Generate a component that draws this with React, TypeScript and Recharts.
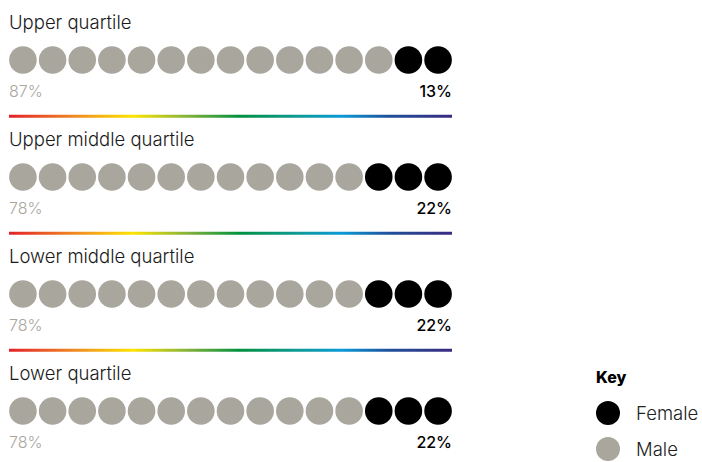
import { ReferenceLine, Scatter, ScatterChart, XAxis, YAxis } from "recharts";

const quartiles = [
  "Upper quartile",
  "Upper middle quartile",
  "Lower middle quartile",
  "Lower quartile",
];
const malePct = [87, 78, 78, 78];
const femalePct = [13, 22, 22, 22];
const femaleDots = [2, 3, 3, 3];
const dotsPerRow = 15;
const keyItems = [
  { label: "Female", color: "#000000" },
  { label: "Male", color: "#a9a69e" },
];

const GREY = "#a9a69e";
const FONT = "Inter, 'Noto Sans', sans-serif";

const dots = quartiles.flatMap((_, r) =>
  Array.from({ length: dotsPerRow }, (_, i) => ({
    x: i,
    y: r,
    female: i >= dotsPerRow - femaleDots[r],
  }))
);
const maleData = dots.filter((d) => !d.female);
const femaleData = dots.filter((d) => d.female);

const titleData = quartiles.map((name, r) => ({ x: -0.47, y: r, name }));
const malePctData = malePct.map((v, r) => ({ x: -0.47, y: r, v }));
const femalePctData = femalePct.map((v, r) => ({ x: 14.47, y: r, v }));
const dividers = quartiles.slice(0, -1).map((_, r) => r + 0.48);

const Dot = (color: string) => (p: any) => (
  <circle cx={p.cx} cy={p.cy} r={13.8} fill={color} />
);

function KeyBox() {
  return (
    <div style={{ position: "absolute", left: 596, top: 366, fontFamily: FONT }}>
      <div style={{ fontWeight: 800, fontSize: 16, color: "#000", lineHeight: "22px" }}>
        Key
      </div>
      <div style={{ height: 7 }} />
      {keyItems.map((k) => (
        <div key={k.label} style={{ display: "flex", alignItems: "center", height: 36 }}>
          <span
            style={{
              width: 24,
              height: 24,
              borderRadius: "50%",
              background: k.color,
              display: "inline-block",
            }}
          />
          <span
            style={{ marginLeft: 16, fontSize: 18.5, fontWeight: 300, color: "#222", lineHeight: "20px" }}
          >
            {k.label}
          </span>
        </div>
      ))}
    </div>
  );
}

export default function App() {
  return (
    <div style={{ position: "absolute", left: 0, top: 0, width: 702, height: 462, background: "#fff" }}>
      <ScatterChart
        width={702}
        height={462}
        margin={{ top: 60, right: 250, bottom: 51, left: 9 }}
      >
        <defs>
          <linearGradient id="rainbow" gradientUnits="userSpaceOnUse" x1={9} x2={452} y1={0} y2={0}>
            <stop offset="0%" stopColor="#e3202a" />
            <stop offset="15%" stopColor="#f08a22" />
            <stop offset="28%" stopColor="#fde400" />
            <stop offset="40%" stopColor="#86b33a" />
            <stop offset="52%" stopColor="#00913f" />
            <stop offset="66%" stopColor="#0f9a9a" />
            <stop offset="75%" stopColor="#0a9ad8" />
            <stop offset="86%" stopColor="#1f4f9a" />
            <stop offset="100%" stopColor="#3a2a80" />
          </linearGradient>
        </defs>
        <XAxis type="number" dataKey="x" domain={[-0.47, 14.47]} hide />
        <YAxis type="number" dataKey="y" domain={[0, 3]} reversed hide />
        {dividers.map((y) => (
          <ReferenceLine key={y} y={y} stroke="url(#rainbow)" strokeWidth={3} />
        ))}
        <Scatter data={maleData} shape={Dot(GREY)} isAnimationActive={false} />
        <Scatter data={femaleData} shape={Dot("#000")} isAnimationActive={false} />
        <Scatter
          data={titleData}
          isAnimationActive={false}
          shape={(p: any) => (
            <text
              x={p.cx}
              y={p.cy - 31}
              fontFamily={FONT}
              fontSize={18.5}
              fontWeight={300}
              fill="#1a1a1a"
            >
              {p.payload.name}
            </text>
          )}
        />
        <Scatter
          data={malePctData}
          isAnimationActive={false}
          shape={(p: any) => (
            <text x={p.cx} y={p.cy + 37} fontFamily={FONT} fontSize={16} fontWeight={300} fill={GREY}>
              {p.payload.v}%
            </text>
          )}
        />
        <Scatter
          data={femalePctData}
          isAnimationActive={false}
          shape={(p: any) => (
            <text
              x={p.cx}
              y={p.cy + 37}
              fontFamily={FONT}
              fontSize={16}
              fontWeight={500}
              textAnchor="end"
              fill="#000"
            >
              {p.payload.v}%
            </text>
          )}
        />
      </ScatterChart>
      <KeyBox />
    </div>
  );
}
